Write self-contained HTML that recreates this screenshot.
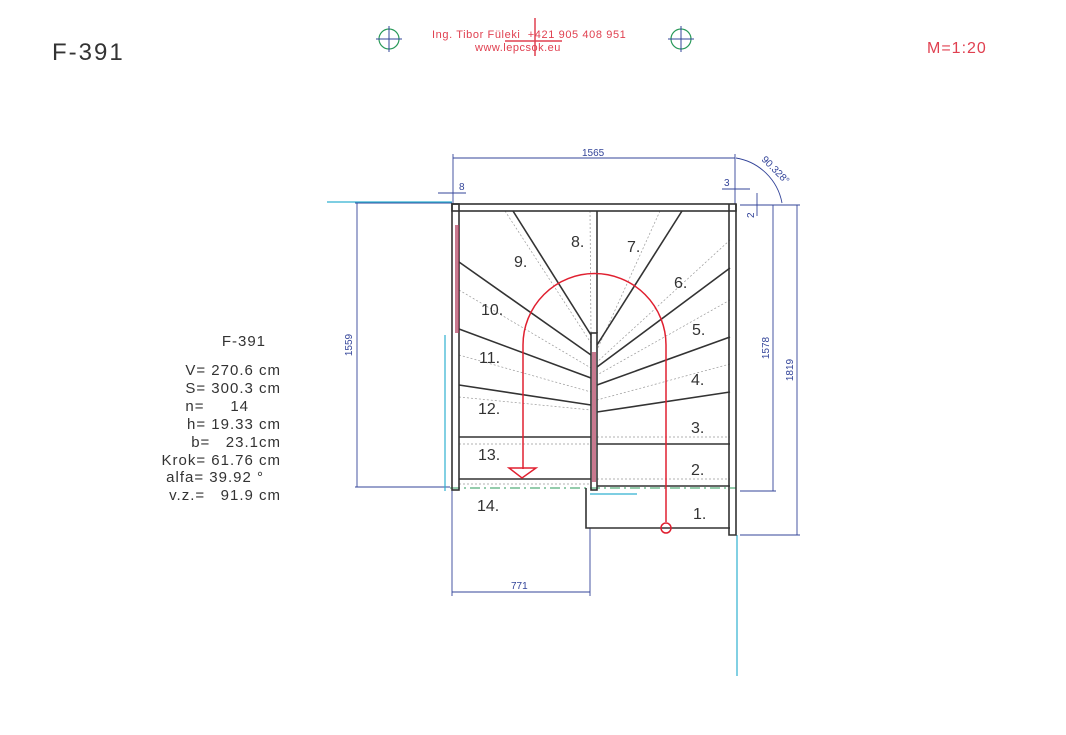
<!DOCTYPE html>
<html><head><meta charset="utf-8"><style>
html,body{margin:0;padding:0;background:#fff;}
svg{display:block;font-family:"Liberation Sans",sans-serif;}
</style></head><body>
<svg width="1066" height="735" viewBox="0 0 1066 735" xmlns="http://www.w3.org/2000/svg">
<rect width="1066" height="735" fill="#fff"/>
<!-- header -->
<text x="52" y="60" font-size="24" fill="#333" letter-spacing="2">F-391</text>
<text x="927" y="53" font-size="16" fill="#e04050" letter-spacing="1">M=1:20</text>
<g stroke="#2a9a5a" fill="none" stroke-width="1.2"><circle cx="389" cy="39" r="10"/><circle cx="681" cy="39" r="10"/></g>
<g stroke="#334499" stroke-width="1"><line x1="376" y1="39" x2="402" y2="39"/><line x1="389" y1="26" x2="389" y2="52"/><line x1="668" y1="39" x2="694" y2="39"/><line x1="681" y1="26" x2="681" y2="52"/></g>
<text x="432" y="38" font-size="11" fill="#e04050" letter-spacing="0.6">Ing. Tibor Füleki&#160;&#160;+421 905 408 951</text>
<text x="475" y="51" font-size="11" fill="#e04050" letter-spacing="0.5">www.lepcsok.eu</text>
<g stroke="#e04050" stroke-width="1.5"><line x1="535" y1="18" x2="535" y2="56"/><line x1="505" y1="41" x2="562" y2="41"/></g>
<!-- left text -->
<g font-size="15" fill="#333" text-anchor="end" letter-spacing="1">
<text x="266" y="346">F-391</text>
<text x="281" y="375">V= 270.6 cm</text>
<text x="281" y="393">S= 300.3 cm</text>
<text x="249" y="411">n=&#160;&#160;&#160;&#160;&#160;14</text>
<text x="281" y="429">h=&#160;19.33 cm</text>
<text x="281" y="447">b=&#160;&#160;&#160;23.1cm</text>
<text x="281" y="465">Krok= 61.76 cm</text>
<text x="264" y="482">alfa= 39.92 °</text>
<text x="281" y="500">v.z.=&#160;&#160;&#160;91.9 cm</text>
</g>
<!-- dimension lines -->
<g stroke="#334499" stroke-width="0.9" fill="none">
<line x1="453" y1="158" x2="735" y2="158"/><line x1="453" y1="154" x2="453" y2="204"/><line x1="735" y1="154" x2="735" y2="204"/>
<line x1="438" y1="193" x2="466" y2="193"/>
<line x1="722" y1="189" x2="750" y2="189"/>
<line x1="757" y1="193" x2="757" y2="216"/>
<path d="M736 158 A56 56 0 0 1 782 203"/>
<line x1="355" y1="203" x2="452" y2="203"/><line x1="357" y1="203" x2="357" y2="487"/><line x1="355" y1="487" x2="450" y2="487"/>
<line x1="740" y1="205" x2="800" y2="205"/><line x1="773" y1="205" x2="773" y2="491"/><line x1="740" y1="491" x2="776" y2="491"/>
<line x1="797" y1="205" x2="797" y2="535"/><line x1="740" y1="535" x2="800" y2="535"/>
<line x1="452" y1="490" x2="452" y2="596"/><line x1="590" y1="528" x2="590" y2="596"/><line x1="452" y1="592" x2="590" y2="592"/>
</g>
<g font-size="10" fill="#334499">
<text x="582" y="156">1565</text><text x="459" y="190">8</text><text x="724" y="186">3</text>
<text x="761" y="160" transform="rotate(45 761 160)">90.328°</text>
<text x="352" y="345" transform="rotate(-90 352 345)" text-anchor="middle">1559</text>
<text x="769" y="348" transform="rotate(-90 769 348)" text-anchor="middle">1578</text>
<text x="793" y="370" transform="rotate(-90 793 370)" text-anchor="middle">1819</text>
<text x="754" y="218" transform="rotate(-90 754 218)">2</text>
<text x="511" y="589">771</text>
</g>
<!-- cyan/green -->
<g stroke="#30b0d0" stroke-width="1.2" fill="none">
<line x1="327" y1="202" x2="452" y2="202"/><line x1="445" y1="335" x2="445" y2="491"/><line x1="737" y1="535" x2="737" y2="676"/><line x1="590" y1="494" x2="637" y2="494"/>
</g>
<line x1="450" y1="488" x2="736" y2="488" stroke="#2a9a5a" stroke-dasharray="10,4,2,4"/>
<!-- dotted guide lines -->
<g stroke="#999" stroke-width="0.7" stroke-dasharray="2,2" fill="none">
<line x1="505" y1="211" x2="591" y2="343"/><line x1="459" y1="290" x2="591" y2="368"/><line x1="459" y1="355" x2="591" y2="392"/><line x1="459" y1="397" x2="591" y2="410"/><line x1="459" y1="444" x2="591" y2="444"/>
<line x1="590" y1="211" x2="591" y2="333"/><line x1="660" y1="211" x2="597" y2="350"/><line x1="730" y1="240" x2="597" y2="362"/><line x1="730" y1="300" x2="597" y2="375"/><line x1="730" y1="364" x2="597" y2="400"/><line x1="597" y1="437" x2="730" y2="437"/><line x1="597" y1="479" x2="730" y2="479"/>
<line x1="459" y1="484" x2="590" y2="484"/>
</g>
<!-- structure -->
<g stroke="#333" stroke-width="1.6" fill="none">
<rect x="452" y="204" width="284" height="7"/>
<rect x="452" y="204" width="7" height="286"/>
<path d="M729 204 V535 H736 V204"/>
<rect x="591" y="333" width="6" height="157"/>
<line x1="513" y1="211" x2="591" y2="335"/>
<line x1="459" y1="262" x2="591" y2="355"/>
<line x1="459" y1="329" x2="591" y2="378"/>
<line x1="459" y1="385" x2="591" y2="405"/>
<line x1="459" y1="437" x2="591" y2="437"/>
<line x1="459" y1="479" x2="591" y2="479"/>
<line x1="597" y1="211" x2="597" y2="333"/>
<line x1="682" y1="211" x2="597" y2="345"/>
<line x1="730" y1="268" x2="597" y2="367"/>
<line x1="730" y1="337" x2="597" y2="385"/>
<line x1="730" y1="392" x2="597" y2="412"/>
<line x1="597" y1="444" x2="730" y2="444"/>
<line x1="597" y1="486" x2="730" y2="486"/>
<path d="M586 488 V528 H730"/>
</g>
<g fill="#b04060" opacity="0.7"><rect x="455" y="225" width="4" height="108"/><rect x="592" y="352" width="4" height="130"/></g>
<!-- walking line -->
<g stroke="#e02030" stroke-width="1.5" fill="none">
<path d="M666 522 V345 A71.5 71.5 0 0 0 523 345 V469"/>
<circle cx="666" cy="528" r="5"/>
<path d="M509 468 H536 L522 478 Z"/>
</g>
<!-- numbers -->
<g font-size="16" fill="#333">
<text x="571" y="247">8.</text><text x="627" y="252">7.</text><text x="514" y="267">9.</text><text x="674" y="288">6.</text>
<text x="481" y="315">10.</text><text x="692" y="335">5.</text><text x="479" y="363">11.</text><text x="691" y="385">4.</text>
<text x="478" y="414">12.</text><text x="691" y="433">3.</text><text x="478" y="460">13.</text><text x="691" y="475">2.</text>
<text x="477" y="511">14.</text><text x="693" y="519">1.</text>
</g>
</svg>
</body></html>
